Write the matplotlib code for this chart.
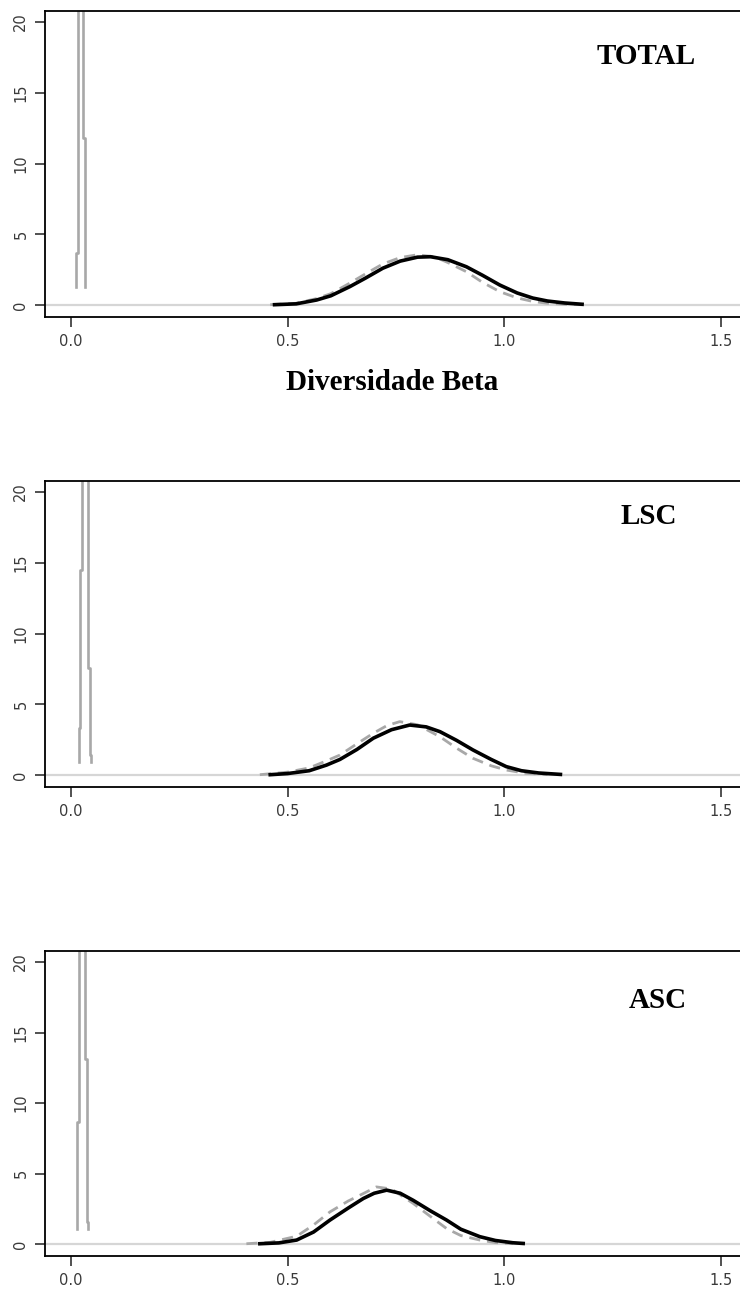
import numpy as np
import matplotlib
matplotlib.use("Agg")
import matplotlib.pyplot as plt

# panel names
panels = ["TOTAL", "LSC", "ASC"]

# black solid density curves (x, y)
solid_x = [
    [0.47, 0.52, 0.567, 0.60, 0.644, 0.68, 0.72, 0.76, 0.80, 0.83, 0.87, 0.913, 0.95, 0.99, 1.03, 1.066, 1.10, 1.14, 1.18],
    [0.46, 0.50, 0.55, 0.59, 0.621, 0.66, 0.698, 0.74, 0.782, 0.82, 0.852, 0.89, 0.928, 0.97, 1.005, 1.04, 1.08, 1.13],
    [0.436, 0.48, 0.521, 0.56, 0.598, 0.64, 0.675, 0.70, 0.729, 0.76, 0.79, 0.83, 0.867, 0.90, 0.944, 0.98, 1.02, 1.044],
]
solid_y = [
    [0.02, 0.08, 0.35, 0.65, 1.3, 1.9, 2.6, 3.1, 3.38, 3.41, 3.2, 2.7, 2.1, 1.41, 0.85, 0.49, 0.28, 0.14, 0.05],
    [0.02, 0.1, 0.3, 0.7, 1.1, 1.8, 2.6, 3.2, 3.53, 3.4, 3.06, 2.45, 1.77, 1.1, 0.59, 0.3, 0.14, 0.04],
    [0.02, 0.08, 0.28, 0.85, 1.7, 2.55, 3.23, 3.6, 3.82, 3.6, 3.1, 2.35, 1.7, 1.05, 0.52, 0.25, 0.09, 0.04],
]

# grey dashed curves
dash_x = [
    [0.46, 0.52, 0.567, 0.60, 0.644, 0.68, 0.72, 0.76, 0.80, 0.84, 0.87, 0.913, 0.95, 0.99, 1.03, 1.066, 1.10, 1.14, 1.18],
    [0.436, 0.50, 0.55, 0.59, 0.621, 0.66, 0.698, 0.73, 0.759, 0.80, 0.852, 0.89, 0.928, 0.97, 1.005, 1.05, 1.10],
    [0.405, 0.46, 0.521, 0.56, 0.598, 0.64, 0.675, 0.705, 0.74, 0.79, 0.83, 0.867, 0.90, 0.944, 0.98, 1.02],
]
dash_y = [
    [0.02, 0.12, 0.45, 0.8, 1.55, 2.2, 2.9, 3.35, 3.55, 3.4, 3.0, 2.35, 1.6, 0.94, 0.5, 0.25, 0.12, 0.05, 0.02],
    [0.02, 0.2, 0.5, 1.0, 1.41, 2.2, 2.95, 3.5, 3.77, 3.55, 2.7, 1.9, 1.18, 0.65, 0.35, 0.12, 0.03],
    [0.02, 0.12, 0.55, 1.35, 2.28, 3.05, 3.58, 4.05, 3.9, 2.88, 1.95, 1.1, 0.6, 0.28, 0.1, 0.03],
]

# narrow observed densities near zero (two step lines per panel)
obs_x = [
    [[0.0122, 0.0122, 0.0155, 0.0155], [0.0316, 0.0316, 0.0277, 0.0277]],
    [[0.0177, 0.0177, 0.0208, 0.0208, 0.0246, 0.0246], [0.047, 0.047, 0.044, 0.044, 0.040, 0.040]],
    [[0.0146, 0.0146, 0.0185, 0.0185], [0.040, 0.040, 0.036, 0.036, 0.0316, 0.0316]],
]
obs_y = [
    [[1.29, 3.65, 3.65, 25], [1.29, 11.8, 11.8, 25]],
    [[0.94, 3.3, 3.3, 14.5, 14.5, 25], [0.94, 1.41, 1.41, 7.54, 7.54, 25]],
    [[1.1, 8.64, 8.64, 25], [1.1, 1.58, 1.58, 13.1, 13.1, 25]],
]

xticks = [0.0, 0.5, 1.0, 1.5]
xticklabels = ["0.0", "0.5", "1.0", "1.5"]
yticks = [0, 5, 10, 15, 20]

W, H = 740, 1296
fig = plt.figure(figsize=(W / 100, H / 100), dpi=100)

tops = [11, 481, 951]
bottoms = [317, 787, 1256]
label_pos = [(646, 57), (649, 516), (658, 1000)]

for i in range(3):
    ax = fig.add_axes([45 / W, 1 - bottoms[i] / H, 719 / W, (bottoms[i] - tops[i]) / H])
    ax.axhline(0, color="#d6d6d6", lw=1.6, zorder=1)
    for xs, ys in zip(obs_x[i], obs_y[i]):
        ax.plot(xs, ys, color="#a8a8a8", lw=1.9, zorder=2)
    ax.plot(dash_x[i], dash_y[i], color="#a8a8a8", lw=2.0, ls=(0, (4, 2.5)), zorder=3)
    ax.plot(solid_x[i], solid_y[i], color="black", lw=2.6, zorder=4,
            solid_joinstyle="round")
    ax.set_xlim(-0.06, 1.6)
    ax.set_ylim(-0.85, 20.78)
    ax.set_xticks(xticks)
    ax.set_xticklabels(xticklabels)
    ax.set_yticks(yticks)
    ax.set_yticklabels([str(v) for v in yticks], rotation=90, va="center")
    ax.tick_params(direction="out", length=7, width=1.2, color="#333333",
                   labelsize=10.5, labelcolor="#3a3a3a", pad=5)
    for s in ["left", "bottom", "top"]:
        ax.spines[s].set_linewidth(1.3)
    ax.spines["right"].set_visible(False)
    fig.text(label_pos[i][0] / W, 1 - label_pos[i][1] / H, panels[i],
             family="Liberation Serif", weight="bold", fontsize=21,
             ha="center", va="center")

fig.text(392 / W, 1 - 383 / H, "Diversidade Beta", family="Liberation Serif",
         weight="bold", fontsize=21, ha="center", va="center")

fig.savefig("out.png", dpi=100)
